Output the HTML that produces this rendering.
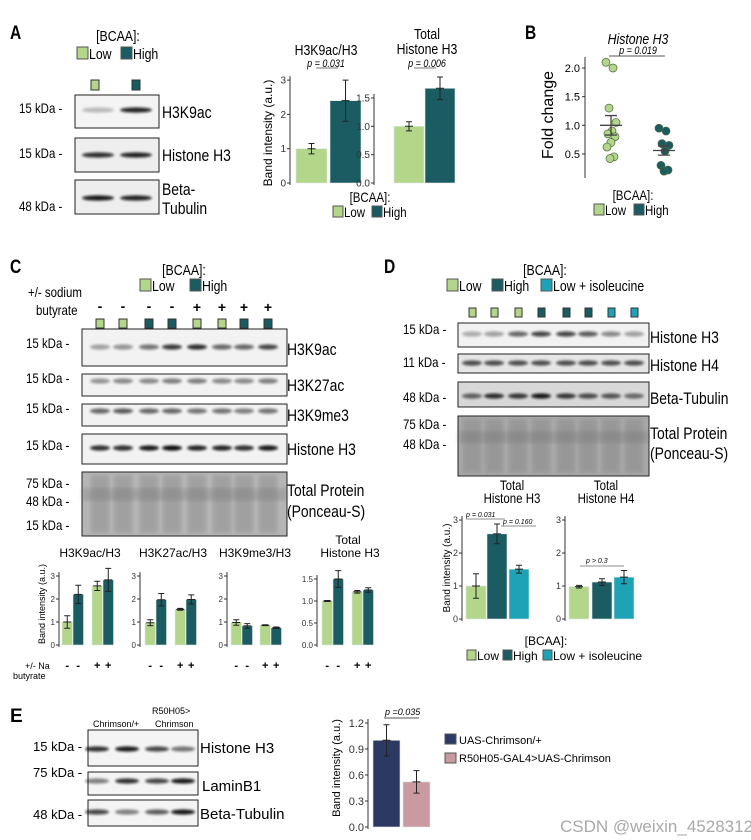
<!DOCTYPE html>
<html><head><meta charset="utf-8"><style>
body{margin:0;background:#fff}
svg{display:block}
.n{font-family:"Liberation Sans Narrow","Liberation Sans",sans-serif}
.s{font-family:"Liberation Sans",sans-serif}
.pl{font-family:"Liberation Sans",sans-serif;font-weight:bold;font-size:19px}
</style></head><body>
<svg id="fig" width="751" height="840" viewBox="0 0 751 840" xmlns="http://www.w3.org/2000/svg">
<defs><filter id="bl" x="-20%" y="-100%" width="140%" height="300%"><feGaussianBlur stdDeviation="1.2"/></filter>
<filter id="bl2"><feGaussianBlur stdDeviation="2"/></filter></defs>
<rect width="751" height="840" fill="#fff"/>
<!-- Panel A -->
<g>
<text class="pl n" x="10" y="39">A</text>
<text class="n" x="118" y="41" font-size="15" text-anchor="middle">[BCAA]:</text>
<g><rect x="77" y="47" width="11" height="12" fill="#b3d68a" stroke="#555"/><text class="n" x="89" y="59" font-size="15">Low</text><rect x="121" y="47" width="11" height="12" fill="#1b5c63" stroke="#555"/><text class="n" x="133" y="59" font-size="15">High</text></g>
<text class="n" x="19" y="113" font-size="14">15 kDa -</text>
<text class="n" x="19" y="158" font-size="14">15 kDa -</text>
<text class="n" x="19" y="211" font-size="14">48 kDa -</text>
<text class="n" x="162" y="118" font-size="17">H3K9ac</text>
<text class="n" x="162" y="161" font-size="17">Histone H3</text>
<text class="n" x="162" y="195" font-size="17">Beta-</text>
<text class="n" x="162" y="214" font-size="17">Tubulin</text>
<text class="n" x="326" y="55" font-size="15" text-anchor="middle">H3K9ac/H3</text>
<text class="n" x="326" y="67" font-size="11" font-style="italic" text-anchor="middle">p = 0.031</text>
<line x1="316" y1="68" x2="338" y2="68" stroke="#777"/>
<text class="n" x="427" y="39" font-size="15" text-anchor="middle">Total</text>
<text class="n" x="427" y="54" font-size="15" text-anchor="middle">Histone H3</text>
<text class="n" x="427" y="67" font-size="11" font-style="italic" text-anchor="middle">p = 0.006</text>
<line x1="414" y1="68" x2="436" y2="68" stroke="#777"/>
<text class="s" transform="translate(272,133) rotate(-90)" font-size="12" text-anchor="middle">Band intensity (a.u.)</text>
<text class="n" x="370" y="202" font-size="14" text-anchor="middle">[BCAA]:</text>
<g><rect x="333" y="206" width="10" height="11" fill="#b3d68a" stroke="#555"/><text class="n" x="344" y="217" font-size="14">Low</text><rect x="372" y="206" width="10" height="11" fill="#1b5c63" stroke="#555"/><text class="n" x="383" y="217" font-size="14">High</text></g>
</g>
<!-- Panel B -->
<g>
<text class="pl n" x="525" y="39">B</text>
<text class="n" x="638" y="44" font-size="15" font-style="italic" text-anchor="middle">Histone H3</text>
<text class="n" x="638" y="54" font-size="11" font-style="italic" text-anchor="middle">p = 0.019</text>
<line x1="609" y1="56" x2="665" y2="56" stroke="#555"/>
<text class="s" transform="translate(553,115) rotate(-90)" font-size="16" text-anchor="middle">Fold change</text>
<text class="n" x="633" y="200" font-size="14" text-anchor="middle">[BCAA]:</text>
<g><rect x="594" y="204" width="10" height="11" fill="#b3d68a" stroke="#555"/><text class="n" x="605" y="215" font-size="14">Low</text><rect x="634" y="204" width="10" height="11" fill="#1b5c63" stroke="#555"/><text class="n" x="645" y="215" font-size="14">High</text></g>
</g>
<!-- Panel C -->
<g>
<text class="pl n" x="10" y="273">C</text>
<text class="n" x="184" y="275" font-size="15" text-anchor="middle">[BCAA]:</text>
<g><rect x="140" y="279" width="11" height="12" fill="#b3d68a" stroke="#555"/><text class="n" x="152" y="291" font-size="15">Low</text><rect x="190" y="279" width="11" height="12" fill="#1b5c63" stroke="#555"/><text class="n" x="202" y="291" font-size="15">High</text></g>
<text class="n" x="28" y="297" font-size="14">+/- sodium</text>
<text class="n" x="36" y="315" font-size="14">butyrate</text>
<g class="s" font-size="14" font-weight="bold" text-anchor="middle">
<text x="100" y="311">-</text><text x="123" y="311">-</text><text x="149" y="311">-</text><text x="172" y="311">-</text><text x="197" y="312">+</text><text x="222" y="312">+</text><text x="244" y="312">+</text><text x="268" y="312">+</text></g>
<g class="n" font-size="14">
<text x="26" y="348">15 kDa -</text><text x="26" y="383">15 kDa -</text><text x="26" y="413">15 kDa -</text><text x="26" y="450">15 kDa -</text><text x="26" y="488">75 kDa -</text><text x="26" y="506">48 kDa -</text><text x="26" y="530">15 kDa -</text></g>
<g class="n" font-size="17">
<text x="287" y="355">H3K9ac</text><text x="287" y="391">H3K27ac</text><text x="287" y="421">H3K9me3</text><text x="287" y="455">Histone H3</text><text x="287" y="496">Total Protein</text><text x="287" y="517">(Ponceau-S)</text></g>
<g class="s" font-size="12" text-anchor="middle">
<text x="90" y="557">H3K9ac/H3</text><text x="173" y="557">H3K27ac/H3</text><text x="255" y="557">H3K9me3/H3</text><text x="348" y="544">Total</text><text x="350" y="557">Histone H3</text></g>
<text class="s" transform="translate(45,604) rotate(-90)" font-size="9" text-anchor="middle">Band intensity (a.u.)</text>
<text class="s" x="25" y="669" font-size="9">+/- Na</text>
<text class="s" x="13" y="679" font-size="9">butyrate</text>
</g>
<!-- Panel D -->
<g>
<text class="pl n" x="384" y="273">D</text>
<text class="n" x="545" y="275" font-size="15" text-anchor="middle">[BCAA]:</text>
<g><rect x="447" y="279" width="11" height="12" fill="#b3d68a" stroke="#555"/><text class="n" x="459" y="291" font-size="15">Low</text><rect x="492" y="279" width="11" height="12" fill="#1b5c63" stroke="#555"/><text class="n" x="504" y="291" font-size="15">High</text><rect x="541" y="279" width="11" height="12" fill="#1ea2b5" stroke="#555"/><text class="n" x="553" y="291" font-size="15">Low + isoleucine</text></g>
<g class="n" font-size="14">
<text x="403" y="334">15 kDa -</text><text x="403" y="367">11 kDa -</text><text x="403" y="402">48 kDa -</text><text x="403" y="429">75 kDa -</text><text x="403" y="449">48 kDa -</text></g>
<g class="n" font-size="17">
<text x="650" y="343">Histone H3</text><text x="650" y="371">Histone H4</text><text x="650" y="404">Beta-Tubulin</text><text x="650" y="439">Total Protein</text><text x="650" y="459">(Ponceau-S)</text></g>
<g class="n" font-size="14" text-anchor="middle">
<text x="512" y="490">Total</text><text x="512" y="503">Histone H3</text><text x="606" y="490">Total</text><text x="606" y="503">Histone H4</text></g>
<text class="s" transform="translate(450,568) rotate(-90)" font-size="10" text-anchor="middle">Band intensity (a.u.)</text>
<g class="s" font-size="7" font-style="italic"><text x="466" y="517">p = 0.031</text><text x="503" y="524">p = 0.160</text><text x="586" y="563">p &gt; 0.3</text></g>
<g stroke="#666" stroke-width="0.8"><line x1="466" y1="519" x2="505" y2="519"/><line x1="501" y1="526" x2="536" y2="526"/><line x1="580" y1="566" x2="624" y2="566"/></g>
<text class="s" x="546" y="645" font-size="12" text-anchor="middle">[BCAA]:</text>
<g class="s" font-size="12"><rect x="467" y="650" width="9" height="10" fill="#b3d68a" stroke="#555"/><text x="477" y="660">Low</text><rect x="503" y="650" width="9" height="10" fill="#1b5c63" stroke="#555"/><text x="513" y="660">High</text><rect x="543" y="650" width="9" height="10" fill="#1ea2b5" stroke="#555"/><text x="553" y="660">Low + isoleucine</text></g>
</g>
<!-- Panel E -->
<g>
<text class="pl s" x="10" y="722">E</text>
<text class="s" x="93" y="727" font-size="9">Chrimson/+</text>
<text class="s" x="152" y="714" font-size="9">R50H05&gt;</text>
<text class="s" x="155" y="727" font-size="9">Chrimson</text>
<g class="s" font-size="13"><text x="33" y="751">15 kDa -</text><text x="33" y="777">75 kDa -</text><text x="33" y="819">48 kDa -</text></g>
<g class="s" font-size="15"><text x="200" y="753">Histone H3</text><text x="202" y="791">LaminB1</text><text x="200" y="819">Beta-Tubulin</text></g>
<text class="s" transform="translate(340,768) rotate(-90)" font-size="11" text-anchor="middle">Band intensity (a.u.)</text>
<text class="s" x="385" y="715" font-size="9" font-style="italic">p =0.035</text>
<line x1="384" y1="718" x2="419" y2="718" stroke="#555"/>
<g class="s" font-size="11"><rect x="445" y="734" width="11" height="10" fill="#2c3a63" stroke="#555"/><text x="459" y="744">UAS-Chrimson/+</text><rect x="445" y="753" width="11" height="10" fill="#c99aa0" stroke="#555"/><text x="459" y="762">R50H05-GAL4&gt;UAS-Chrimson</text></g>
<text class="s" x="560" y="832" font-size="17" fill="#9a9a9a" opacity="0.85">CSDN @weixin_4528312</text>
</g>
<g id="dyn"></g>
</svg>
<script>
// ---- chart data ----
const aK9Vals=[1.0,2.4], aK9Errs=[0.15,0.6];
const aH3Vals=[1.0,1.67], aH3Errs=[0.08,0.2];
const bLowVals=[2.1,2.0,1.3,1.05,0.9,0.85,0.8,0.7,0.62,0.45,0.42];
const bHighVals=[0.95,0.9,0.68,0.65,0.55,0.3,0.22,0.2];
const bMeans=[1.0,0.56], bSems=[0.17,0.08];
const cK9Vals=[1.0,2.2,2.57,2.83], cK9Errs=[0.27,0.4,0.2,0.5];
const cK27Vals=[0.97,1.97,1.55,1.98], cK27Errs=[0.13,0.27,0.04,0.2];
const cMe3Vals=[0.98,0.83,0.86,0.75], cMe3Errs=[0.12,0.1,0.02,0.03];
const cH3Vals=[1.0,1.5,1.21,1.25], cH3Errs=[0.01,0.19,0.03,0.05];
const cSigns=['-','-','+','+'];
const dH3Vals=[1.0,2.58,1.51], dH3Errs=[0.37,0.3,0.12];
const dH4Vals=[0.98,1.12,1.27], dH4Errs=[0.04,0.1,0.2];
const eVals=[1.0,0.52], eErrs=[0.18,0.13];
const ticks03=[0,1,2,3], ticksH3=[0,0.5,1.0,1.5], ticksB=[0.5,1.0,1.5,2.0], ticksE=[0,0.3,0.6,0.9,1.2];

const NS="http://www.w3.org/2000/svg";
const root=document.getElementById('dyn');
function mk(tag,at,par){const e=document.createElementNS(NS,tag);for(const k in at)e.setAttribute(k,at[k]);(par||root).appendChild(e);return e;}
const LOW='#b3d68a',HIGH='#1b5c63',ISO='#1ea2b5';

// condense narrow-font texts horizontally
document.querySelectorAll('text').forEach(t=>{
  const nar=t.classList.contains('n')||(t.parentNode.classList&&t.parentNode.classList.contains('n'));
  if(!nar||t.hasAttribute('transform'))return;
  const x=parseFloat(t.getAttribute('x'));
  t.setAttribute('transform',`translate(${x},0) scale(0.82,1) translate(${-x},0)`);
});

function barChart(o){
  const g=mk('g',{});
  
  
  const y=v=>o.y0-v*o.unit;
  const top=y(o.ticks[o.ticks.length-1])-4;
  const ax=mk('line',{x1:o.ax,y1:top,x2:o.ax,y2:o.y0+2,stroke:'#333','stroke-width':1},g);
  
  
  o.ticks.forEach(t=>{
    mk('line',{x1:o.ax-3,y1:y(t),x2:o.ax,y2:y(t),stroke:'#333'},g);
    const tl=mk('text',{x:o.ax-4,y:y(t)+o.fs*0.35,'font-size':o.fs,'text-anchor':'end','font-family':'Liberation Sans, sans-serif',fill:'#333'},g);
    tl.textContent=o.fmt?o.fmt(t):t;
    
    
  });
  o.vals.forEach((v,i)=>{
    const x=o.slots[i];
    const b=mk('rect',{x:x,y:y(v),width:o.w,height:o.y0-y(v),fill:o.colors[i],stroke:'#dfe8e6','stroke-width':0.6},g);
    
    
    const cx=x+o.w/2,e=o.errs[i];
    const eb=mk('path',{d:`M${cx},${y(v+e)}V${y(v-e)}M${cx-3},${y(v+e)}H${cx+3}M${cx-3},${y(v-e)}H${cx+3}M${cx-4},${y(v)}H${cx+4}`,stroke:'#222','stroke-width':1,fill:'none'},g);
    
    
    if(o.signs){const s=mk('text',{x:cx,y:o.signY,'font-size':11,'font-weight':'bold','text-anchor':'middle','font-family':'Liberation Sans, sans-serif'},g);s.textContent=o.signs[i];
      
      }
  });
}
const f1=t=>t.toFixed(1);
// A
barChart({name:'chart-a-h3k9ac',ax:290,y0:183,unit:34.3,ticks:ticks03,fs:10,vals:aK9Vals,errs:aK9Errs,slots:[296,330],w:31,colors:[LOW,HIGH]});
barChart({name:'chart-a-total-h3',ax:374,y0:183,unit:56.7,ticks:ticksH3,fmt:f1,fs:10,vals:aH3Vals,errs:aH3Errs,slots:[394,425],w:30,colors:[LOW,HIGH]});
// C
const cCols=[LOW,HIGH,LOW,HIGH];
barChart({name:'chart-c-h3k9ac',ax:59,y0:645,unit:23,ticks:ticks03,fs:8,vals:cK9Vals,errs:cK9Errs,slots:[62,73,92,103],w:10.5,colors:cCols,signs:cSigns,signY:669});
barChart({name:'chart-c-h3k27ac',ax:140,y0:645,unit:23,ticks:ticks03,fs:8,vals:cK27Vals,errs:cK27Errs,slots:[145,156,175,186],w:10.5,colors:cCols,signs:cSigns,signY:669});
barChart({name:'chart-c-h3k9me3',ax:227,y0:645,unit:23,ticks:ticks03,fs:8,vals:cMe3Vals,errs:cMe3Errs,slots:[231,242,260,271],w:10.5,colors:cCols,signs:cSigns,signY:669});
barChart({name:'chart-c-total-h3',ax:317,y0:645,unit:44,ticks:ticksH3,fmt:f1,fs:8,vals:cH3Vals,errs:cH3Errs,slots:[322,333,352,363],w:10.5,colors:cCols,signs:cSigns,signY:669});
// D
barChart({name:'chart-d-total-h3',ax:462,y0:619,unit:33,ticks:ticks03,fs:9,vals:dH3Vals,errs:dH3Errs,slots:[466,487,509],w:20,colors:[LOW,HIGH,ISO]});
barChart({name:'chart-d-total-h4',ax:565,y0:619,unit:33,ticks:ticks03,fs:9,vals:dH4Vals,errs:dH4Errs,slots:[569,592,614],w:20,colors:[LOW,HIGH,ISO]});
// E
barChart({name:'chart-e',ax:368,y0:827,unit:86.7,ticks:ticksE,fmt:f1,fs:11,vals:eVals,errs:eErrs,slots:[373,403],w:27,colors:['#2c3a63','#c99aa0']});

// B dot plot
(function(){
  const g=mk('g',{});
  
  
  const y0=182.6,unit=57.3,ax=585,y=v=>y0-v*unit;
  mk('line',{x1:ax,y1:57,x2:ax,y2:178,stroke:'#333'},g);
  ticksB.forEach(t=>{mk('line',{x1:ax-3,y1:y(t),x2:ax,y2:y(t),stroke:'#333'},g);
    const tl=mk('text',{x:ax-5,y:y(t)+4,'font-size':11,'text-anchor':'end','font-family':'Liberation Sans, sans-serif'},g);tl.textContent=t.toFixed(1);
    
    });
  [[bLowVals,611,LOW],[bHighVals,664,HIGH]].forEach(([vals,cx,col],k)=>{
    vals.forEach((v,i)=>{const c=mk('circle',{cx:cx+((i*7)%11-5),cy:y(v),r:4,fill:col,stroke:'#4a6a3a','stroke-width':0.7},g);
      
      });
    const m=bMeans[k],s=bSems[k];
    const mb=mk('path',{d:`M${cx-11},${y(m)}H${cx+11}M${cx},${y(m+s)}V${y(m-s)}M${cx-6},${y(m+s)}H${cx+6}M${cx-6},${y(m-s)}H${cx+6}`,stroke:'#444','stroke-width':1.3,fill:'none'},g);
    
    
  });
})();

// blots
function blot(name,x,y,w,h,bandY,lanes,ints,bg,bw){
  const g=mk('g',{});
  
  
  mk('rect',{x:x,y:y,width:w,height:h,fill:bg||'#f2f2f2',stroke:'#222','stroke-width':1},g);
  lanes.forEach((lx,i)=>{
    mk('ellipse',{cx:lx,cy:bandY,rx:(bw||10),ry:2.6,fill:'#111',opacity:ints[i],filter:'url(#bl)'},g);
  });
}
function ponceau(name,x,y,w,h,lanes,base){
  const g=mk('g',{});
  
  
  mk('rect',{x:x,y:y,width:w,height:h,fill:base,stroke:'#222'},g);
  lanes.forEach(lx=>{mk('rect',{x:lx-9,y:y+3,width:18,height:h-6,fill:'#7a7a7a',opacity:0.35,filter:'url(#bl2)'},g);});
  mk('rect',{x:x,y:y+h*0.25,width:w,height:h*0.2,fill:'#666',opacity:0.25,filter:'url(#bl2)'},g);
}
// A lane markers
[[95,LOW],[136,HIGH]].forEach(([lx,c])=>{const r=mk('rect',{x:lx-4,y:80,width:8,height:10,fill:c,stroke:'#333'});
  
  });
const aL=[98,136];
blot('blot-a-h3k9ac',75,95,84,33,110,aL,[0.25,0.9],'#f4f4f4',16);
blot('blot-a-h3',75,138,84,34,155,aL,[0.85,0.9],'#eee',16);
blot('blot-a-tubulin',75,180,84,34,198,aL,[0.95,0.9],'#eee',16);
// C
const cL=[100,123,149,172,197,222,244,268];
const cC=[LOW,LOW,HIGH,HIGH,LOW,LOW,HIGH,HIGH];
cL.forEach((lx,i)=>{const r=mk('rect',{x:lx-4,y:319,width:8,height:9,fill:cC[i],stroke:'#333'});
  
  });
blot('blot-c-h3k9ac',82,329,205,37,347,cL,[0.35,0.4,0.55,0.8,0.85,0.6,0.6,0.75]);
blot('blot-c-h3k27ac',82,374,205,22,381,cL,[0.4,0.45,0.45,0.5,0.5,0.45,0.45,0.5]);
blot('blot-c-h3k9me3',82,404,205,22,411,cL,[0.6,0.65,0.6,0.6,0.55,0.55,0.5,0.55]);
blot('blot-c-h3',82,434,205,30,448,cL,[0.85,0.85,0.95,1,0.9,0.9,0.85,0.95]);
ponceau('blot-c-ponceau',82,472,205,64,cL,'#b5b5b5');
// D
const dL=[472,494,518,541,566,588,611,634];
const dC=[LOW,LOW,LOW,HIGH,HIGH,HIGH,ISO,ISO];
dL.forEach((lx,i)=>{const r=mk('rect',{x:lx-3,y:308,width:7,height:9,fill:dC[i],stroke:'#333'});
  
  });
blot('blot-d-h3',458,323,191,24,334,dL,[0.3,0.35,0.6,0.75,0.75,0.65,0.45,0.35]);
blot('blot-d-h4',458,354,191,19,363,dL,[0.7,0.7,0.7,0.7,0.7,0.7,0.7,0.7],'#e6e6e6');
blot('blot-d-tubulin',458,382,191,25,396,dL,[0.6,0.85,0.8,0.95,0.8,0.7,0.65,0.55],'#d8d8d8');
ponceau('blot-d-ponceau',458,416,191,60,dL,'#a8a8a8');
// E
const eL=[97,127,157,183];
blot('blot-e-h3',88,730,110,36,749,eL,[0.85,0.95,0.75,0.55],'#f4f4f4',12);
blot('blot-e-laminb1',88,772,110,23,781,eL,[0.5,0.85,0.75,0.95],'#f4f4f4',12);
blot('blot-e-tubulin',88,800,110,26,812,eL,[0.75,0.5,0.65,0.95],'#f4f4f4',12);
</script>
</body></html>
